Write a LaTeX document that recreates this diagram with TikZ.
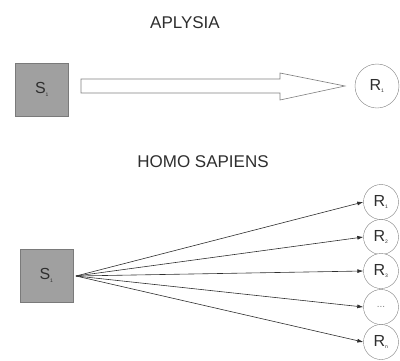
\documentclass[tikz,border=0pt]{standalone}
\usepackage{fontspec}
\setmainfont{Liberation Sans}
\usetikzlibrary{arrows.meta}
\definecolor{boxfill}{HTML}{A0A0A0}
\definecolor{boxline}{HTML}{7A7A7A}
\definecolor{ink}{HTML}{2E2E2E}
\begin{document}
\begin{tikzpicture}[x=1pt,y=-1pt,
  title/.style={font=\fontsize{17}{19}\selectfont, text=ink},
  sbox/.style={draw=boxline, fill=boxfill, minimum size=53pt, inner sep=0pt, font=\fontsize{16}{18}\selectfont, text=ink},
  rcirc/.style={draw=gray, fill=white, circle, inner sep=0pt, font=\fontsize{16}{18}\selectfont, text=ink},
  fan/.style={draw=ink, line width=0.6pt, -{Latex[length=6pt,width=4pt]}}]
\useasboundingbox (0,0) rectangle (400,360);
% top
\node[title] (t1) at (185,23) {APLYSIA};
\node[sbox] (s1) at (42,89.5) {S\textsubscript{\tiny 1}};
\node[rcirc, minimum size=44pt] (r1) at (377,86) {R\textsubscript{\tiny 1}};
\draw[draw=gray, fill=white, line width=0.6pt]
  (81,79) -- (280,79) -- (280,73) -- (345,86) -- (280,100) -- (280,93) -- (81,93) -- cycle;
% bottom
\node[title] (t2) at (203,162) {HOMO SAPIENS};
\node[sbox] (s2) at (46.5,275.5) {S\textsubscript{\tiny 1}};
\coordinate (o) at (76,276);
\node[rcirc, minimum size=35pt] (q1) at (381,202) {R\textsubscript{\tiny 1}};
\node[rcirc, minimum size=35pt] (q2) at (381,237) {R\textsubscript{\tiny 2}};
\node[rcirc, minimum size=35pt] (q3) at (381,271) {R\textsubscript{\tiny 3}};
\node[rcirc, minimum size=35pt] (q4) at (381,307) {\fontsize{10}{12}\selectfont\textcolor{gray}{...}};
\node[rcirc, minimum size=35pt] (q5) at (381,342) {R\textsubscript{\tiny n}};
\foreach \q in {q1,q2,q3,q4,q5} \draw[fan] (o) -- (\q.west);
\end{tikzpicture}
\end{document}
